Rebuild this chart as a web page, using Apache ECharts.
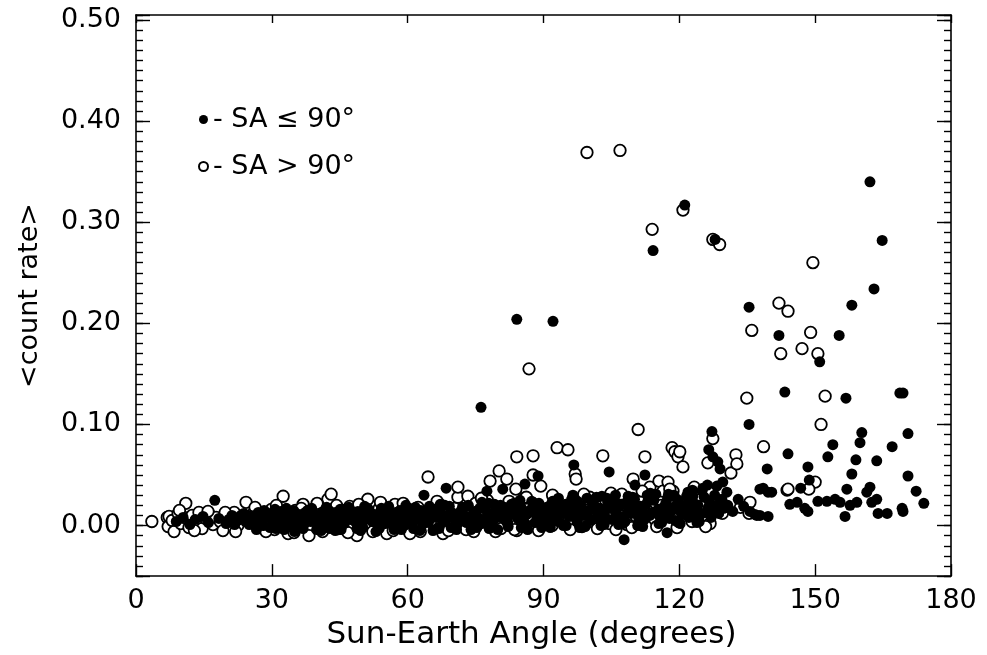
<!DOCTYPE html>
<html>
<head>
<meta charset="utf-8">
<script src="https://cdn.jsdelivr.net/npm/echarts@6/dist/echarts.min.js"></script>
<style>
  html, body { margin: 0; padding: 0; background: #fff; }
  #chart { width: 987px; height: 655px; }
</style>
</head>
<body>
<div id="chart"></div>
<script>
// axis ticks
var xTicks = [0, 30, 60, 90, 120, 150, 180];
var yLabels = ['0.00', '0.10', '0.20', '0.30', '0.40', '0.50'];

// filled circles: SA <= 90 deg  [Sun-Earth angle, <count rate>]
var filledBand = [
  [8.9,0.004],[10.4,0.008],[11.9,0.001],[13.1,0.006],[14.8,0.009],[16.0,0.003],[17.4,0.025],[18.3,0.007],
  [19.9,0.002],[21.2,0.010],[22.4,0.005],[23.8,0.012],[25.0,0.001],[26.1,0.008],[27.0,0.013],[27.9,0.003],
  [28.8,0.009],[29.6,-0.002],[30.4,0.011],[31.2,0.006],[32.0,0.014],[32.9,0.002],[33.7,0.009],[34.5,0.005],
  [35.4,0.012],[36.2,-0.001],[37.0,0.008],[37.9,0.015],[38.6,0.004],[39.5,0.010],[40.3,0.001],[41.1,0.013],
  [41.9,0.007],[42.8,-0.003],[43.6,0.011],[44.4,0.005],[45.1,0.016],[46.0,0.002],[46.9,0.009],[47.7,0.013],
  [48.4,0.004],[49.3,0.010],[50.1,-0.002],[50.9,0.014],[51.8,0.006],[52.6,0.011],[53.4,0.001],[54.2,0.017],
  [55.0,0.008],[55.9,0.003],[56.7,0.012],[57.5,0.006],[58.3,0.015],[59.2,0.000],[60.0,0.010],[60.8,0.005],
  [61.7,0.018],[62.5,0.008],[63.3,0.002],[63.6,0.030],[64.2,0.013],[65.0,0.007],[65.9,0.016],[66.7,-0.002],
  [67.5,0.011],[68.4,0.005],[68.5,0.037],[69.2,0.019],[70.0,0.009],[70.9,0.002],[71.7,0.014],[72.5,0.007],
  [73.4,0.020],[74.2,0.004],[75.0,0.012],[75.9,0.017],[76.7,0.006],[77.5,0.034],[77.6,0.013],[78.4,0.001],
  [79.2,0.021],[80.1,0.009],[81.0,0.036],[80.9,0.015],[81.8,0.004],[82.6,0.011],[83.5,0.022],[84.3,0.007],
  [85.2,0.016],[85.9,0.041],[86.0,0.002],[86.9,0.013],[87.7,0.023],[88.6,0.008],[88.8,0.049],[89.4,0.017],
  [90.3,0.004],[91.1,0.012],[92.0,0.024],[92.8,0.009],[93.7,0.018],[94.5,0.001],[95.4,0.014],[96.2,0.026],
  [96.5,0.030],[96.7,0.060],[97.1,0.008],[97.9,0.016],[98.8,0.011],[99.6,0.027],[100.4,0.005],[101.3,0.019],
  [102.1,0.012],[102.9,0.029],[103.8,0.007],[104.5,0.053],[104.6,0.017],[105.5,0.024],[106.3,0.010],[107.2,0.021],
  [107.8,-0.014],[108.0,0.004],[108.9,0.015],[109.7,0.028],[110.2,0.040],[110.6,0.011],[111.4,0.019],[112.3,0.006],
  [112.4,0.050],[113.1,0.025],[114.0,0.013],[114.8,0.031],[115.7,0.009],[116.5,0.018],[117.3,-0.007],[117.4,0.027],
  [118.2,0.014],[119.1,0.005],[119.9,0.022],[120.8,0.011],[121.6,0.029],[122.5,0.016],[123.0,0.029],[123.3,0.008],
  [124.1,0.020],[125.0,0.034],[125.8,0.013],[126.5,0.075],[126.6,0.024],[127.2,0.093],[127.4,0.068],[127.4,0.014],
  [128.2,0.020],[128.3,0.039],[128.5,0.063],[129.0,0.056],[129.4,0.026],[129.6,0.043],[130.5,0.033],[130.7,0.020],
  [131.8,0.014],[133.0,0.026],[134.2,0.019]
];
var filledBand2 = [
  [26.6,-0.004],[28.3,0.015],[30.9,-0.003],[33.2,0.017],[35.0,-0.006],[37.4,0.013],[39.9,-0.004],[42.1,0.018],
  [44.0,-0.005],[46.5,0.014],[48.8,-0.003],[50.5,0.019],[53.0,-0.006],[55.3,0.016],[57.0,-0.004],[59.6,0.020],
  [61.3,-0.003],[63.0,0.014],[65.6,-0.005],[67.2,0.021],[69.6,-0.002],[72.1,0.018],[74.0,-0.004],[76.4,0.023],
  [78.0,-0.003],[80.5,0.020],[82.2,-0.001],[84.8,0.025],[86.5,-0.004],[89.0,0.022],[91.5,-0.002],[93.3,0.027],
  [95.0,0.000],[97.5,0.024],[99.2,-0.001],[101.7,0.028],[103.4,0.001],[105.9,0.030],[107.5,0.002],[110.1,0.026],
  [111.9,-0.001],[113.6,0.032],[116.1,0.003],[118.8,0.030],[120.2,0.002],[122.9,0.035],[124.4,0.004],[126.2,0.040]
];
var filledBand3 = [
  [20.5,0.006],[21.8,0.001],[23.1,0.009],[24.2,0.004],[25.4,0.010],[26.4,0.003],[27.3,0.007],[28.1,0.000],
  [29.3,0.012],[30.1,0.005],[31.6,0.002],[32.4,0.010],[33.0,0.006],[34.1,-0.001],[34.9,0.009],[35.8,0.004],
  [36.6,0.011],[37.2,0.002],[38.3,0.007],[39.1,0.012],[39.8,0.003],[40.7,0.008],[41.5,0.004],[42.3,0.010],
  [43.2,0.002],[44.0,0.013],[44.8,0.007],[45.6,0.001],[46.4,0.011],[47.3,0.006],[48.1,0.008],[49.0,0.014],
  [49.8,0.003],[50.6,0.009],[51.4,0.012],[52.2,0.004],[53.1,0.008],[53.9,0.013],[54.7,0.002],[55.6,0.010],
  [56.4,0.006],[57.3,0.013],[58.1,0.003],[58.9,0.009],[59.8,0.014],[60.5,0.004],[61.3,0.011],[62.1,0.006],
  [62.9,0.015],[63.8,0.009],[64.6,0.003],[65.4,0.012],[66.3,0.008],[67.1,0.016],[67.9,0.004],[68.8,0.010],
  [69.7,0.013],[70.5,0.006],[71.3,0.011],[72.2,0.016],[73.0,0.003],[73.8,0.009],[74.7,0.014],[75.5,0.008],
  [76.3,0.002],[77.1,0.017],[78.0,0.010],[78.8,0.005],[79.6,0.013],[80.5,0.008],[81.3,0.018],[82.1,0.003],
  [83.0,0.014],[83.9,0.010],[84.6,0.019],[85.5,0.005],[86.3,0.011],[87.3,0.016],[88.1,0.003],[89.0,0.013],
  [89.8,0.008],[90.7,0.018],[91.6,0.006],[92.4,0.015],[93.2,0.004],[94.1,0.012],[94.9,0.021],[95.8,0.009],
  [96.6,0.016],[97.4,0.004],[98.3,0.019],[99.1,0.010],[100.0,0.015],[100.8,0.022],[101.7,0.008],[102.5,0.017],
  [103.4,0.012],[104.2,0.023],[105.1,0.006],[105.9,0.014],[106.8,0.019],[107.6,0.009],[108.5,0.024],[109.3,0.012],
  [110.2,0.018],[111.0,0.004],[111.9,0.015],[112.7,0.021],[113.5,0.010],[114.4,0.025],[115.3,0.016],[116.1,0.011],
  [117.0,0.022],[117.8,0.007],[118.7,0.018],[119.5,0.026],[120.4,0.013],[121.2,0.020],[122.1,0.008],[122.9,0.024],
  [123.8,0.015],[124.7,0.011],[125.5,0.028],[126.4,0.018],[127.0,0.008],[127.8,0.030],[128.7,0.012],[129.8,0.017]
];
var filledBand4 = [
  [30.7,0.016],[32.7,-0.004],[34.8,0.015],[36.9,-0.003],[38.8,0.017],[40.9,-0.005],[42.6,0.015],[45.3,-0.004],
  [47.0,0.018],[49.6,-0.005],[51.2,0.017],[53.7,-0.003],[55.8,0.019],[58.6,-0.004],[60.3,0.017],[62.7,-0.005],
  [64.8,0.019],[66.9,-0.003],[68.2,0.020],[70.8,-0.004],[73.2,0.019],[75.3,-0.002],[77.9,0.022],[79.9,-0.004],
  [82.9,0.021],[85.1,-0.002],[87.4,0.024],[89.6,-0.002],[91.8,0.022],[94.4,0.000],[96.9,0.023],[98.0,-0.002],
  [100.6,0.025],[102.7,0.000],[104.0,0.027],[106.6,0.001],[108.7,0.029],[110.8,0.000],[112.9,0.030],[115.5,0.002],
  [117.6,0.031],[119.8,0.003],[121.9,0.033],[123.9,0.003],[125.2,0.037]
];
var filledHigh = [
  [76.2,0.117],[84.1,0.204],[92.1,0.202],[114.2,0.272],[121.2,0.317],[127.9,0.283],[162.1,0.340],[164.8,0.282],
  [163.0,0.234],[135.4,0.216],[158.1,0.218],[142.0,0.188],[155.3,0.188],[151.0,0.162],[143.3,0.132],[156.8,0.126],
  [168.7,0.131],[169.4,0.131],[135.4,0.100],[160.3,0.092],[159.9,0.082],[170.5,0.091],[153.9,0.080],[167.0,0.078],
  [152.8,0.068],[144.0,0.071],[159.0,0.065],[163.6,0.064],[139.4,0.056],[148.4,0.058],[158.1,0.051],[170.5,0.049],
  [172.3,0.034],[174.0,0.022],[148.7,0.045],[146.8,0.037],[138.5,0.037],[140.4,0.033],[137.8,0.036],[139.6,0.033],
  [135.6,0.014],[136.7,0.011],[137.1,0.010],[137.8,0.010],[139.6,0.009],[144.4,0.021],[146.0,0.023],[147.7,0.017],
  [148.4,0.014],[150.6,0.024],[152.6,0.024],[154.4,0.026],[155.5,0.023],[156.6,0.009],[157.0,0.036],[157.7,0.020],
  [159.2,0.023],[161.4,0.033],[162.1,0.038],[162.5,0.023],[163.9,0.012],[165.9,0.012],[169.2,0.017],[169.4,0.014],
  [163.6,0.026]
];

// open circles: SA > 90 deg
var openBand = [
  [3.5,0.004],[6.9,0.008],[7.1,-0.001],[7.3,0.009],[8.0,0.005],[8.4,-0.006],[9.3,0.012],[9.9,0.002],
  [10.6,0.008],[11.0,0.022],[11.7,-0.002],[12.4,0.010],[13.2,0.004],[13.9,0.013],[14.6,-0.003],[15.4,0.007],
  [16.2,0.011],[17.0,0.001],[17.7,0.008],[18.6,0.004],[19.2,-0.005],[20.1,0.010],[20.9,0.006],[21.7,0.013],
  [22.5,0.000],[23.3,0.009],[24.3,0.023],[25.1,0.004],[25.9,0.012],[26.7,0.007],[27.4,-0.002],[28.3,0.011],
  [29.1,0.005],[29.9,0.016],[30.6,-0.004],[31.4,0.009],[32.5,0.029],[33.1,0.013],[33.6,-0.008],[34.4,0.006],
  [35.2,0.015],[36.1,0.001],[36.9,0.021],[37.6,0.010],[38.2,-0.010],[39.0,0.007],[39.8,0.017],[40.6,0.003],
  [41.5,0.012],[42.4,0.026],[43.1,0.031],[43.8,0.008],[44.7,-0.003],[45.5,0.015],[46.3,0.006],[47.2,0.019],
  [48.0,0.002],[48.8,-0.010],[49.7,0.013],[50.5,0.007],[51.2,0.026],[52.0,0.010],[52.9,-0.002],[53.7,0.017],
  [54.6,0.004],[55.4,-0.008],[56.3,0.012],[57.2,0.021],[58.0,0.006],[58.9,0.015],[59.7,-0.003],[60.5,-0.008],
  [61.4,0.011],[62.3,0.018],[63.1,0.002],[64.0,0.009],[64.5,0.048],[65.4,0.016],[66.2,-0.001],[67.0,0.021],
  [67.8,-0.008],[68.7,0.012],[69.6,0.005],[70.4,0.017],[71.1,0.028],[71.1,0.038],[72.0,0.008],[72.9,-0.004],
  [73.3,0.029],[74.1,0.014],[75.0,0.022],[75.9,0.003],[76.7,0.011],[77.6,0.025],[78.2,0.044],[78.9,0.007],
  [79.8,0.018],[80.2,0.054],[80.6,-0.003],[81.5,0.013],[81.9,0.046],[82.4,0.024],[83.2,0.006],[83.9,0.036],
  [84.1,0.068],[84.1,-0.005],[85.0,0.016],[85.8,0.027],[87.0,0.009],[87.7,0.069],[87.7,0.050],[88.5,0.020],
  [89.4,0.039],[90.1,0.003],[90.9,0.014],[91.9,0.000],[92.5,0.024],[93.0,0.077],[93.6,0.011],[94.5,0.019],
  [95.4,0.075],[96.1,0.006],[97.0,0.051],[97.2,0.046],[97.9,0.022],[98.5,-0.001],[99.3,0.015],[100.2,0.028],
  [100.7,0.004],[101.6,0.017],[102.5,0.010],[103.1,0.069],[103.8,0.024],[104.6,0.002],[105.5,0.019],[106.4,0.013],
  [107.3,0.031],[108.4,0.001],[109.1,0.022],[109.8,0.046],[110.5,0.009],[110.9,0.095],[111.4,0.027],[112.4,0.068],
  [112.9,0.015],[113.5,0.038],[114.6,0.006],[115.5,0.044],[116.0,0.020],[116.4,0.034],[117.1,0.011],[117.5,0.043],
  [118.4,0.077],[118.6,0.034],[119.0,0.073],[119.7,0.068],[120.1,0.073],[120.4,0.016],[120.8,0.058],[121.9,0.025],
  [122.8,0.004],[123.6,0.018],[124.5,0.030],[125.3,0.010],[126.3,0.062],[126.5,0.033],[126.8,0.002],[127.4,0.086],
  [129.5,0.012],[131.4,0.052],[132.5,0.070],[132.7,0.061],[133.5,0.018]
];
var openBand2 = [
  [9.6,0.015],[12.9,-0.005],[15.9,0.014],[19.7,0.013],[22.0,-0.006],[26.3,0.018],[28.7,-0.006],[31.0,0.020],
  [34.9,-0.007],[36.5,0.017],[40.0,0.022],[41.2,-0.006],[44.3,0.020],[46.8,-0.007],[49.2,0.021],[52.3,-0.006],
  [54.0,0.023],[56.8,-0.005],[59.0,0.022],[62.8,-0.006],[66.5,0.024],[69.0,-0.005],[74.6,-0.006],[76.3,0.027],
  [79.4,-0.006],[83.6,-0.004],[86.2,0.028],[88.9,-0.005],[92.0,0.030],[95.9,-0.004],[98.9,0.031],[101.9,-0.003],
  [104.9,0.032],[106.0,-0.004],[109.5,-0.002],[111.8,0.034],[115.0,-0.001],[117.9,0.036],[119.5,-0.002],[123.3,0.038],
  [125.8,-0.001]
];
var openHigh = [
  [99.6,0.369],[106.9,0.371],[114.0,0.293],[120.8,0.312],[127.4,0.283],[128.9,0.278],[86.8,0.155],[149.5,0.260],
  [142.0,0.220],[144.0,0.212],[136.0,0.193],[149.0,0.191],[142.4,0.170],[147.1,0.175],[150.6,0.170],[152.2,0.128],
  [134.9,0.126],[151.3,0.100],[138.6,0.078],[143.8,0.035],[150.0,0.043],[148.6,0.036],[144.0,0.036],[135.6,0.023],
  [135.4,0.012]
];

var fontName = 'DejaVu Sans';
var tickFont = 27;
var chart = echarts.init(document.getElementById('chart'));

var sharedX = { type: 'value', min: 0, max: 180, interval: 30 };
var sharedY = { type: 'value', min: -0.05, max: 0.505 };
var blackLine = { color: '#000', width: 1.6 };
var tickLine = { color: '#000', width: 1.4 };

function yLabel(v) {
  var s = v.toFixed(2);
  return yLabels.indexOf(s) >= 0 && Math.abs(v * 10 - Math.round(v * 10)) < 1e-6 ? s : '';
}

// short ticks every 0.01 (left and right), drawn as extra bare axes
function minorAxis(pos) {
  return {
    type: 'value', min: -0.05, max: 0.505, interval: 0.01, position: pos,
    axisLine: { show: false, onZero: false },
    axisTick: { inside: true, length: 7, lineStyle: tickLine },
    axisLabel: { show: false },
    splitLine: { show: false }
  };
}

var option = {
  backgroundColor: '#fff',
  animation: false,
  grid: { left: 136, right: 36, top: 15, bottom: 77, containLabel: false },
  legend: {
    orient: 'vertical',
    left: 193,
    top: 101,
    itemWidth: 9,
    itemHeight: 9,
    itemGap: 20,
    icon: 'circle',
    data: ['SA <= 90', 'SA > 90'],
    textStyle: { fontFamily: fontName, fontSize: tickFont, color: '#000' },
    formatter: function (name) {
      return name === 'SA <= 90' ? '- SA \u2264 90\u00b0' : '- SA > 90\u00b0';
    }
  },
  xAxis: [
    Object.assign({}, sharedX, {
      position: 'bottom',
      name: 'Sun-Earth Angle (degrees)',
      nameLocation: 'middle',
      nameGap: 39,
      nameTextStyle: { fontFamily: fontName, fontSize: 31, color: '#000', padding: [0, 24, 0, 0] },
      axisLine: { onZero: false, lineStyle: blackLine },
      axisTick: { inside: true, length: 12, lineStyle: tickLine },
      axisLabel: {
        margin: 11, fontFamily: fontName, fontSize: tickFont, color: '#000',
        formatter: function (v) { return xTicks.indexOf(v) >= 0 ? String(v) : ''; }
      },
      splitLine: { show: false }
    }),
    Object.assign({}, sharedX, {
      position: 'top',
      axisLine: { onZero: false, lineStyle: blackLine },
      axisTick: { inside: true, length: 8, lineStyle: tickLine },
      axisLabel: { show: false },
      splitLine: { show: false }
    })
  ],
  yAxis: [
    Object.assign({}, sharedY, {
      position: 'left',
      name: '<count rate>',
      nameLocation: 'middle',
      nameGap: 93,
      nameRotate: 90,
      nameTextStyle: { fontFamily: fontName, fontSize: 27, color: '#000' },
      axisLine: { onZero: false, lineStyle: blackLine },
      axisTick: { inside: true, length: 14, lineStyle: tickLine },
      axisLabel: { margin: 15, fontFamily: fontName, fontSize: tickFont, color: '#000', formatter: yLabel },
      splitLine: { show: false }
    }),
    Object.assign({}, sharedY, {
      position: 'right',
      axisLine: { onZero: false, lineStyle: blackLine },
      axisTick: { inside: true, length: 14, lineStyle: tickLine },
      axisLabel: { show: false },
      splitLine: { show: false }
    }),
    minorAxis('left'),
    minorAxis('right')
  ],
  series: [
    {
      name: 'SA > 90',
      type: 'scatter',
      symbol: 'circle',
      symbolSize: 11.5,
      silent: true,
      itemStyle: { color: '#fff', borderColor: '#000', borderWidth: 1.8, opacity: 1 },
      data: openBand.concat(openBand2, openHigh)
    },
    {
      name: 'SA <= 90',
      type: 'scatter',
      symbol: 'circle',
      symbolSize: 11,
      silent: true,
      itemStyle: { color: '#000', borderWidth: 0, opacity: 1 },
      data: filledBand.concat(filledBand2, filledBand3, filledBand4, filledHigh)
    }
  ]
};
chart.setOption(option);
</script>
</body>
</html>
